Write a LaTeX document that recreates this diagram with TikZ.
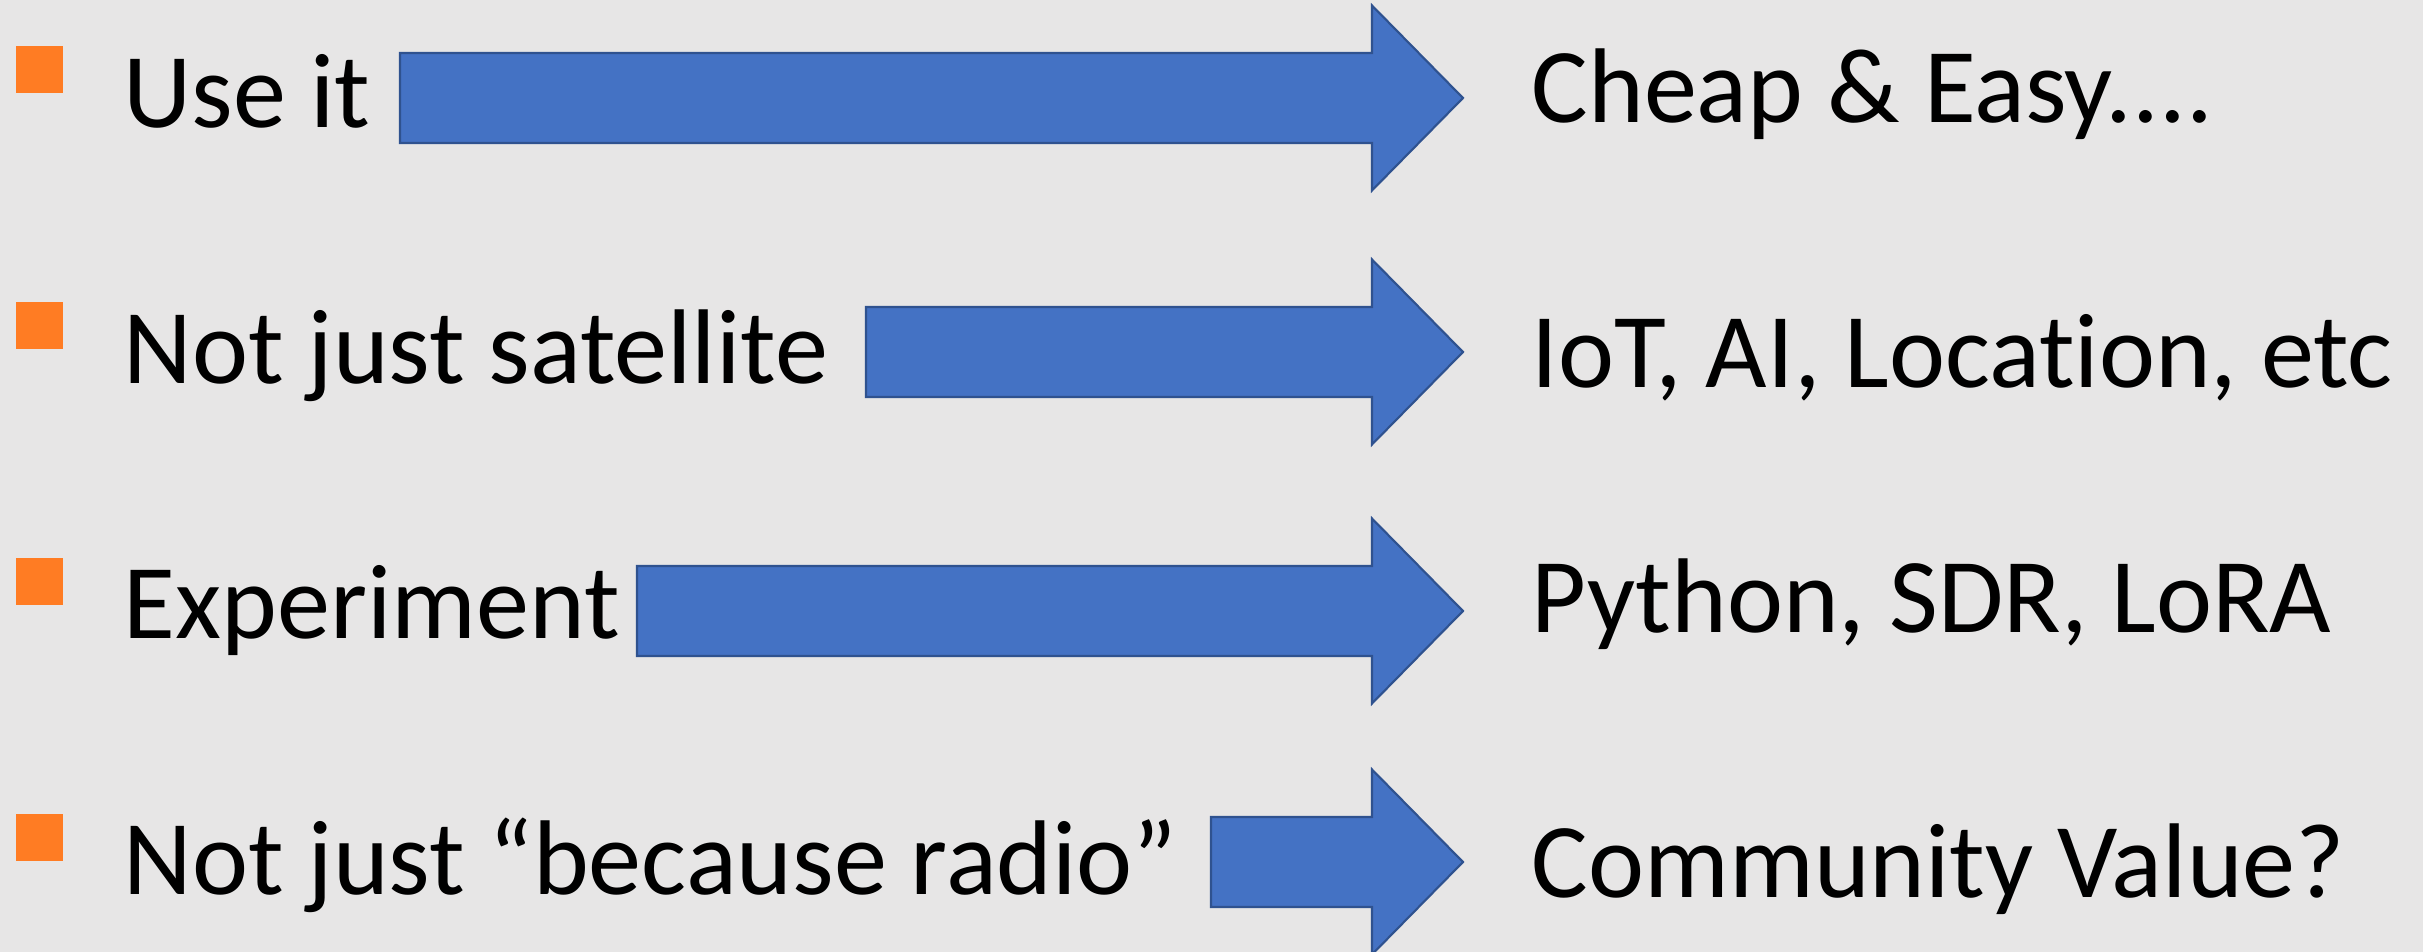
\documentclass[tikz,border=0pt]{standalone}
\usepackage{fontspec}
\setmainfont{Carlito}[Ligatures=NoCommon]
\definecolor{bgc}{RGB}{231,230,230}
\definecolor{arrowfill}{RGB}{68,114,196}
\definecolor{arrowline}{RGB}{47,82,143}
\definecolor{bulletc}{RGB}{255,124,35}
\newcommand\myarrow[2]{%
  \draw[barrow] (#1,#2-45) -- (1372,#2-45) -- (1372,#2-92.5) -- (1463,#2)
     -- (1372,#2+92.5) -- (1372,#2+45) -- (#1,#2+45) -- cycle;}
\begin{document}
\begin{tikzpicture}[x=0.01cm,y=-0.01cm,
  txt/.style={anchor=base west, inner sep=0pt, font=\fontsize{30.2pt}{36pt}\selectfont},
  bul/.style={fill=bulletc},
  barrow/.style={fill=arrowfill, draw=arrowline, line width=0.6pt, line join=miter}]
\fill[bgc] (0,0) rectangle (2423,952);
\useasboundingbox (0,0) rectangle (2423,952);
\clip (0,0) rectangle (2423,952);
% bullets
\foreach \yy in {46,302,558,814} {\fill[bul] (16,\yy) rectangle (63,\yy+47);}
% arrows
\myarrow{400}{98}
\myarrow{866}{352}
\myarrow{637}{611}
\myarrow{1211}{862}
% left texts
\node[txt] (l1) at (123,127.7) {Use it};
\node[txt] (l2) at (123,383.3) {Not just satellite};
\node[txt] (l3) at (123,639) {Experiment};
\node[txt] (l4) at (123,895) {Not just “because radio”};
% right texts
\node[txt] (r1) at (1531,122.7) {Cheap \& Easy....};
\node[txt] (r2) at (1531,387.3) {IoT, AI, Location, etc};
\node[txt] (r3) at (1531,632.3) {Python, SDR, LoRA};
\node[txt] (r4) at (1531,897.3) {Community Value?};
\end{tikzpicture}
\end{document}
